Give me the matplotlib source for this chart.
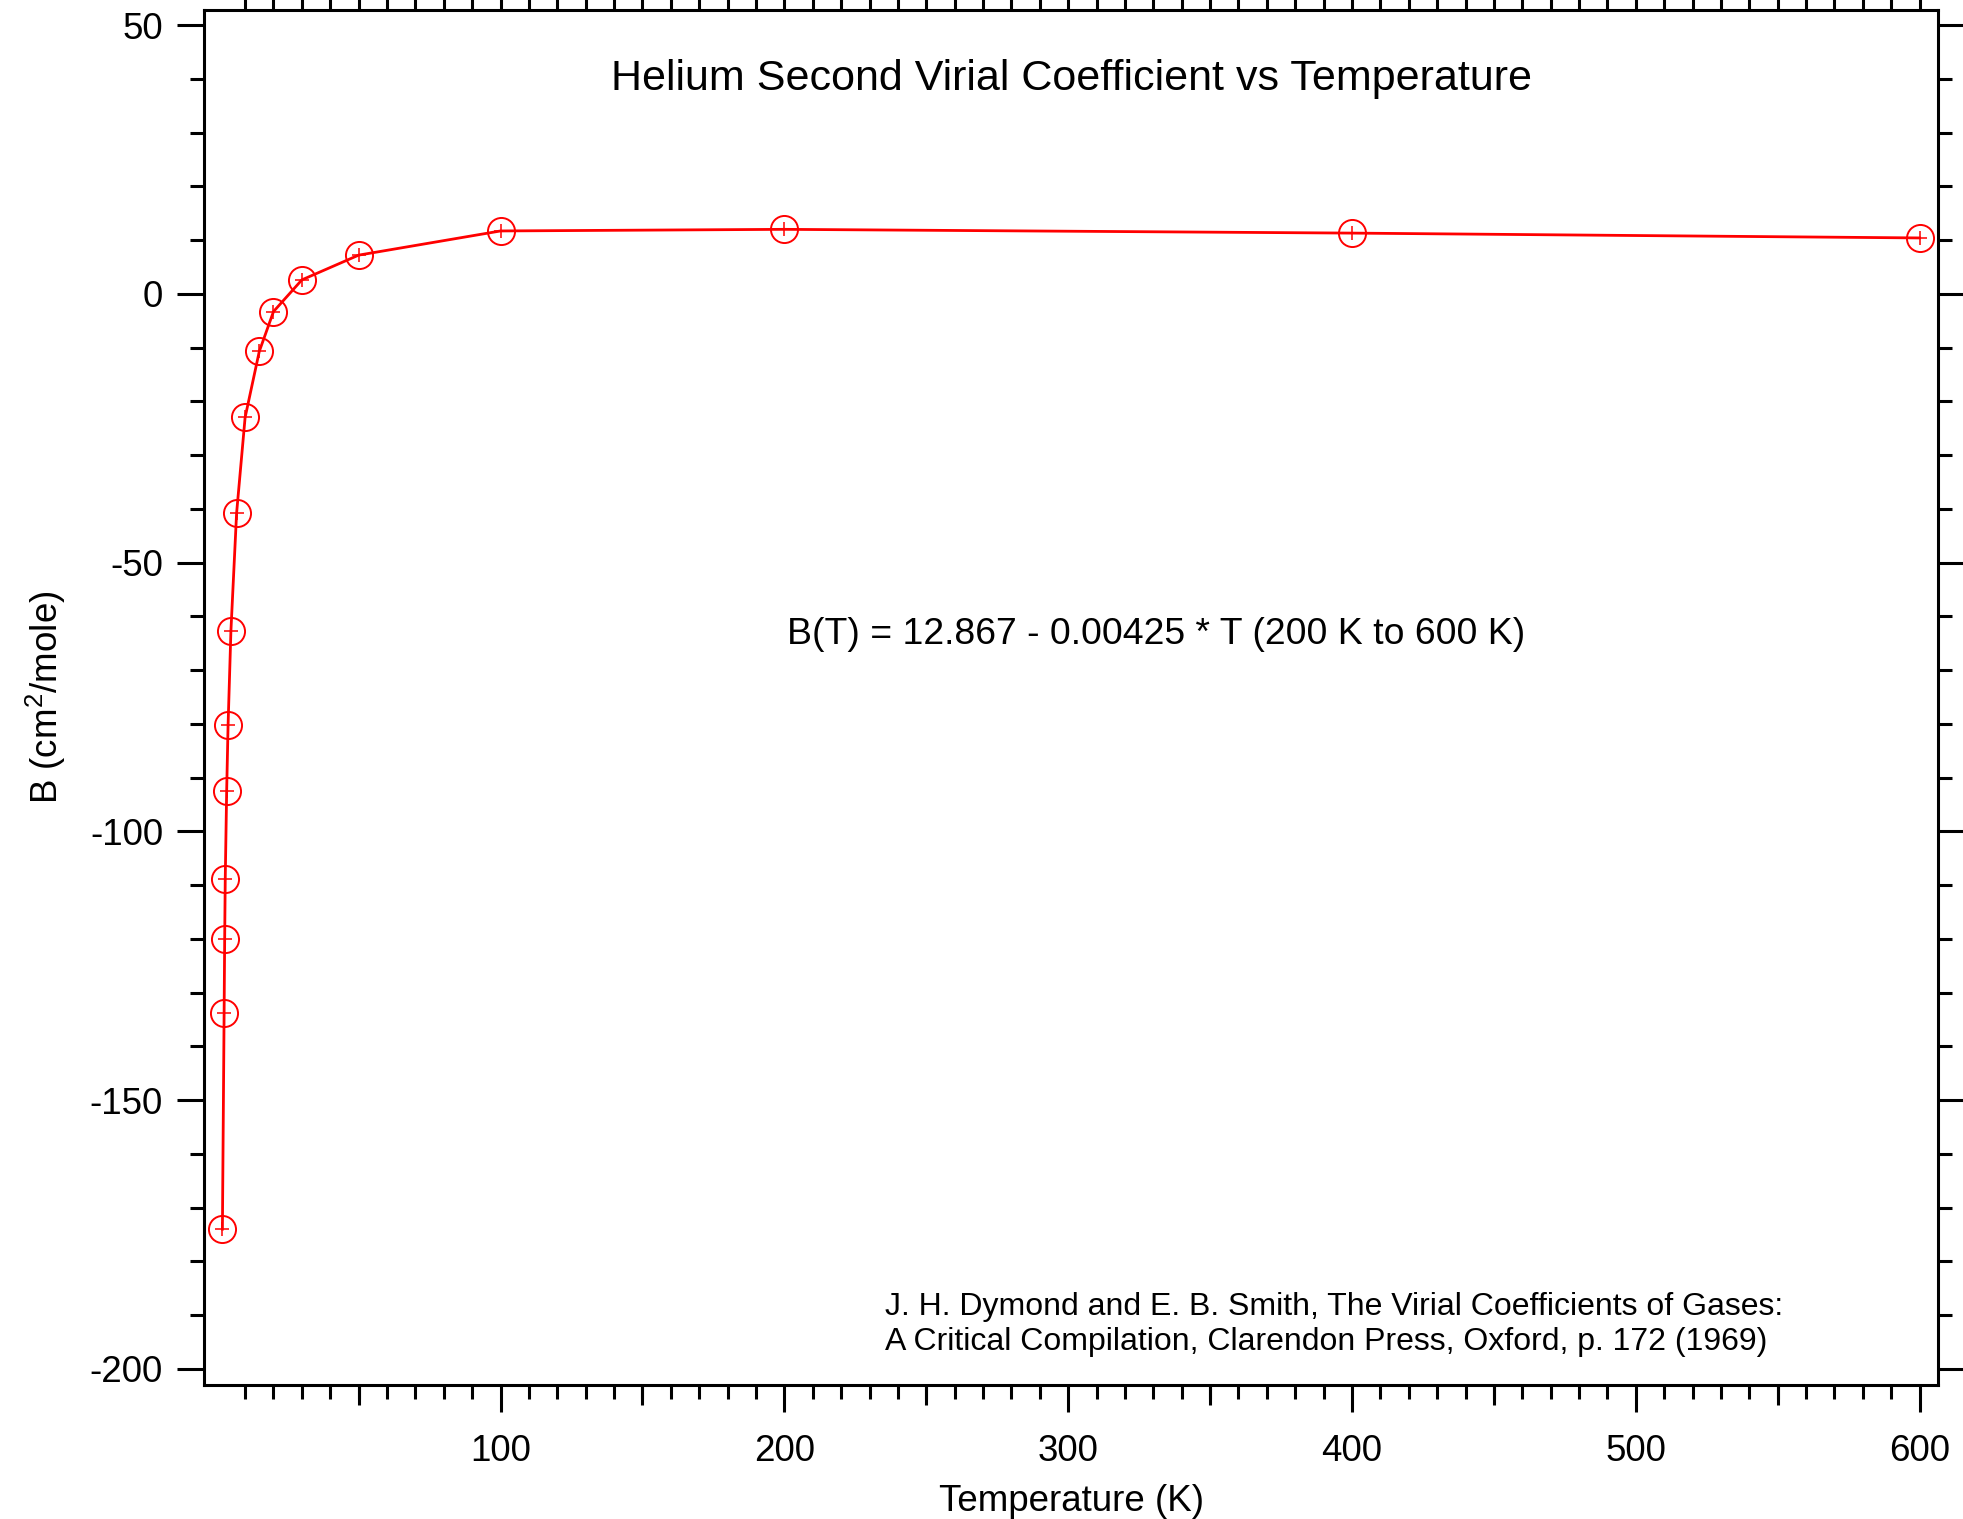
import numpy as np
import matplotlib.pyplot as plt

plt.rcParams['font.family'] = ['Liberation Sans', 'DejaVu Sans']
plt.rcParams['mathtext.fontset'] = 'custom'
plt.rcParams['mathtext.rm'] = 'Liberation Sans'
plt.rcParams['mathtext.default'] = 'regular'
plt.rcParams['axes.unicode_minus'] = False

# helium second virial coefficient data
T = np.array([2, 2.6, 2.8, 3.0, 3.5, 4, 5, 7, 10, 15, 20, 30, 50, 100, 200, 400, 600])  # K
B = np.array([-174.0, -133.8, -120.0, -108.9, -92.5, -80.2, -62.7, -40.8, -23.0,
              -10.7, -3.3, 2.6, 7.2, 11.7, 12.0, 11.3, 10.4])  # cm^2/mole

# tick positions
x_major = [100, 200, 300, 400, 500, 600]
x_medium = [50, 150, 250, 350, 450, 550]
x_minor = np.arange(10, 601, 10)
y_major = [-200, -150, -100, -50, 0, 50]
y_minor = np.arange(-200, 51, 10)

red = '#ff0000'
lw_axis = 2.2

fig = plt.figure(figsize=(19.63, 15.19), dpi=100)
ax = fig.add_axes([0.1039, 0.0882, 0.8834, 0.9052])

ax.plot(T, B, color=red, lw=2.0, zorder=3)
ax.plot(T, B, 'o', mfc='none', mec=red, ms=19.5, mew=1.4, zorder=4)
ax.plot(T, B, '+', color=red, ms=10.5, mew=1.1, zorder=4)

ax.set_xlim(-4.5, 606.5)
ax.set_ylim(-203, 52.8)

ax.set_xticks(x_major)
ax.set_xticks(x_minor, minor=True)
ax.set_yticks(y_major)
ax.set_yticks(y_minor, minor=True)

for s in ax.spines.values():
    s.set_linewidth(lw_axis)

ax.tick_params(which='both', direction='out', width=lw_axis, top=True, right=True,
               labelsize=26.5, pad=10)
ax.tick_params(axis='x', which='major', pad=16)
ax.tick_params(which='major', length=19.4)
ax.tick_params(which='minor', length=10)

# medium ticks at the 50s on the bottom axis
sec = ax.secondary_xaxis('bottom')
sec.set_xticks(x_medium)
sec.tick_params(direction='out', length=14.4, width=lw_axis, labelbottom=False)
sec.spines['bottom'].set_visible(False)

ax.set_xlabel('Temperature (K)', fontsize=26.5, labelpad=11)
ax.set_ylabel('B (cm$^2$/mole)', fontsize=26.5, labelpad=16)

ax.text(0.5, 0.9497, 'Helium Second Virial Coefficient vs Temperature',
        transform=ax.transAxes, ha='center', va='center', fontsize=31)
ax.text(0.336, 0.546, 'B(T) = 12.867 - 0.00425 * T (200 K to 600 K)',
        transform=ax.transAxes, ha='left', va='center', fontsize=26.9)
ax.text(0.3927, 0.0441, 'J. H. Dymond and E. B. Smith, The Virial Coefficients of Gases:\n'
        'A Critical Compilation, Clarendon Press, Oxford, p. 172 (1969)',
        transform=ax.transAxes, ha='left', va='center', fontsize=23, linespacing=1.25)

fig.savefig('out.png', dpi=100)
